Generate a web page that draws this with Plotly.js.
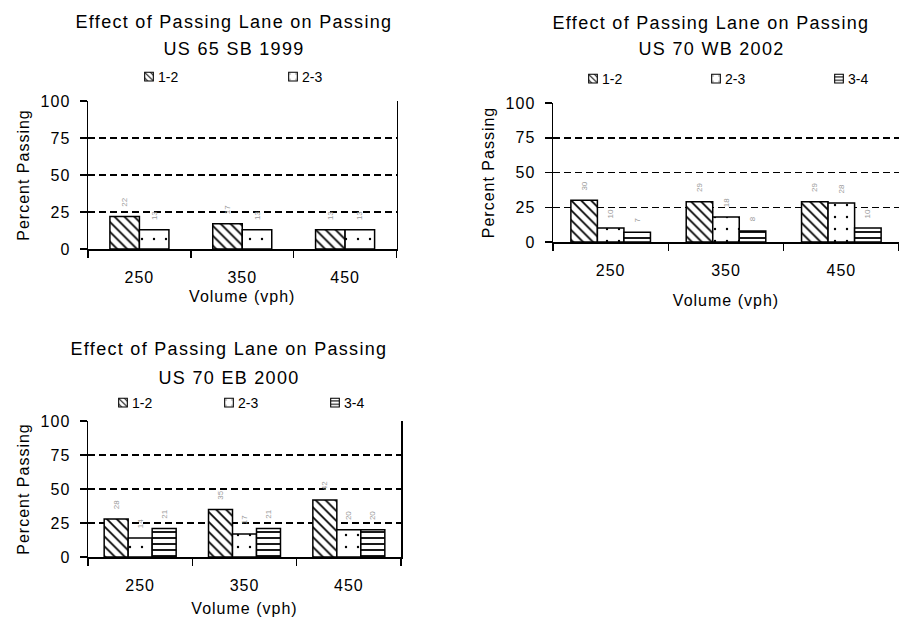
<!DOCTYPE html>
<html>
<head>
<meta charset="utf-8">
<script src="https://cdn.plot.ly/plotly-3.0.1.min.js"></script>
<style>
  html, body { margin: 0; padding: 0; background: #fff; }
  #chart { width: 899px; height: 629px; }
  #chart .annotation-text { letter-spacing: 1.3px; }
  #chart g[class$="tick"] text { letter-spacing: 1px; }
  #chart text[class$="title"] { letter-spacing: 1px; }
  #chart .legendpoints path { transform: translate(31px, 0px) scale(0.72); }
</style>
</head>
<body>
<div id="chart"></div>
<script>
// Traffic volume categories (vehicles per hour)
const volumes = ['250', '350', '450'];
const laneNames = ['1-2', '2-3', '3-4'];

const mainTitle = 'Effect of Passing Lane on Passing';
const siteNames = ['US 65 SB 1999', 'US 70 WB 2002', 'US 70 EB 2000'];

// Percent passing by lane transition, US 65 SB 1999
const us65sb_12 = [22, 17, 13];
const us65sb_23 = [13, 13, 13];

// Percent passing by lane transition, US 70 WB 2002
const us70wb_12 = [30, 29, 29];
const us70wb_23 = [10, 18, 28];
const us70wb_34 = [7, 8, 10];

// Percent passing by lane transition, US 70 EB 2000
const us70eb_12 = [28, 35, 42];
const us70eb_23 = [14, 17, 20];
const us70eb_34 = [21, 21, 20];

const yTicks = [0, 25, 50, 75, 100];
const gridTicks = [25, 50, 75];

const FONT = 'Arial, "Liberation Sans", sans-serif';

// fill pattern per lane transition
const patterns = {
  '1-2': { shape: '\\', size: 7, solidity: 0.25 },
  '2-3': { shape: '.', size: 12, solidity: 0.03 },
  '3-4': { shape: '-', size: 6, solidity: 0.3 }
};

function barTrace(name, values, xa, ya, legendId, extra) {
  const p = patterns[name];
  return Object.assign({
    type: 'bar',
    name: name,
    x: volumes,
    y: values,
    xaxis: xa,
    yaxis: ya,
    legend: legendId,
    // leading spaces lift the rotated value label clear of the bar top
    texttemplate: '\u00a0\u00a0\u00a0%{y}',
    textposition: 'outside',
    textangle: -90,
    constraintext: 'none',
    cliponaxis: false,
    textfont: { family: FONT, size: 8, color: '#9a9a9a' },
    marker: {
      color: 'white',
      line: { color: 'black', width: 1.5 },
      pattern: {
        shape: p.shape, size: p.size, solidity: p.solidity,
        fgcolor: 'black', bgcolor: 'white', fillmode: 'replace'
      }
    },
    hoverinfo: 'skip'
  }, extra || {});
}

// empty carrier so the dashed reference-line axis gets drawn
function gridCarrier(xa, ya) {
  return { type: 'scatter', mode: 'lines', x: [], y: [], xaxis: xa, yaxis: ya, showlegend: false, hoverinfo: 'skip' };
}

// the two-series chart uses touching bars of a fixed width
const pairWidth = 0.287;

const data = [
  gridCarrier('x', 'y4'),
  gridCarrier('x2', 'y5'),
  gridCarrier('x3', 'y6'),

  barTrace(laneNames[0], us65sb_12, 'x', 'y', 'legend', { offset: -pairWidth, width: pairWidth }),
  barTrace(laneNames[1], us65sb_23, 'x', 'y', 'legend', { offset: 0, width: pairWidth }),

  barTrace(laneNames[0], us70wb_12, 'x2', 'y2', 'legend2'),
  barTrace(laneNames[1], us70wb_23, 'x2', 'y2', 'legend2'),
  barTrace(laneNames[2], us70wb_34, 'x2', 'y2', 'legend2'),

  barTrace(laneNames[0], us70eb_12, 'x3', 'y3', 'legend3'),
  barTrace(laneNames[1], us70eb_23, 'x3', 'y3', 'legend3'),
  barTrace(laneNames[2], us70eb_34, 'x3', 'y3', 'legend3')
];

const W = 899, H = 629;
const px = v => v / W;
const py = v => 1 - v / H;

function xAxis(left, right, anchor, titleGap) {
  return {
    domain: [px(left), Math.min(1, px(right))],
    anchor: anchor,
    type: 'category',
    categoryorder: 'array',
    categoryarray: volumes,
    showline: true, linecolor: 'black', linewidth: 1.5,
    ticks: 'outside', tickson: 'boundaries', ticklen: 7, tickwidth: 1.5, tickcolor: 'black',
    ticklabelstandoff: 13,
    tickfont: { family: FONT, size: 16, color: 'black' },
    showgrid: false, zeroline: false, fixedrange: true,
    title: { text: 'Volume (vph)', standoff: titleGap, font: { family: FONT, size: 16, color: 'black' } }
  };
}

function yAxis(top, bottom, anchor, mirror) {
  return {
    domain: [py(bottom), py(top)],
    anchor: anchor,
    range: [0, 100],
    tickmode: 'array', tickvals: yTicks,
    showline: true, linecolor: 'black', linewidth: 1.5, mirror: mirror,
    ticks: 'outside', ticklen: 7, tickwidth: 1.5, tickcolor: 'black',
    ticklabelstandoff: 6,
    tickfont: { family: FONT, size: 16, color: 'black' },
    showgrid: false, zeroline: false, fixedrange: true,
    title: { text: 'Percent Passing', standoff: 10, font: { family: FONT, size: 16, color: 'black' } }
  };
}

// dashed reference lines at 25 / 50 / 75 drawn by an overlaid axis
function gridAxis(over, anchor) {
  return {
    overlaying: over, anchor: anchor,
    range: [0, 100],
    tickmode: 'array', tickvals: gridTicks,
    showticklabels: false, ticks: '',
    showgrid: true, gridcolor: 'black', gridwidth: 1.5, griddash: '7px,4px',
    showline: false, zeroline: false, fixedrange: true
  };
}

function legendAt(xLeft, yMid, entry) {
  return {
    orientation: 'h',
    x: px(xLeft), y: py(yMid),
    xanchor: 'left', yanchor: 'middle',
    entrywidth: entry, entrywidthmode: 'pixels',
    itemwidth: 30,
    bgcolor: 'rgba(0,0,0,0)',
    font: { family: FONT, size: 14, color: 'black' },
    itemclick: false, itemdoubleclick: false
  };
}

function titleLines(cx, y1, y2, site) {
  const base = {
    xref: 'paper', yref: 'paper', showarrow: false,
    xanchor: 'center', yanchor: 'middle',
    font: { family: FONT, size: 18, color: 'black' }
  };
  return [
    Object.assign({}, base, { x: px(cx), y: py(y1), text: mainTitle }),
    Object.assign({}, base, { x: px(cx), y: py(y2), text: site })
  ];
}

const layout = {
  width: W, height: H,
  margin: { l: 0, r: 0, t: 0, b: 0, autoexpand: false },
  paper_bgcolor: 'white', plot_bgcolor: 'white',
  font: { family: FONT, size: 16, color: 'black' },
  barmode: 'group', bargap: 0.31, bargroupgap: 0,
  showlegend: true,

  xaxis: xAxis(88, 396.5, 'y', 6),
  yaxis: yAxis(101, 249, 'x', true),
  xaxis2: xAxis(553, 899, 'y2', 17),
  yaxis2: yAxis(103, 242, 'x2', false),
  xaxis3: xAxis(88, 401, 'y3', 10),
  yaxis3: yAxis(421, 557, 'x3', true),

  yaxis4: gridAxis('y', 'x'),
  yaxis5: gridAxis('y2', 'x2'),
  yaxis6: gridAxis('y3', 'x3'),

  legend: legendAt(118, 77, 99),
  legend2: legendAt(562, 79, 78),
  legend3: legendAt(92, 403, 61),

  annotations: [].concat(
    titleLines(234, 22, 49, siteNames[0]),
    titleLines(711, 23, 49, siteNames[1]),
    titleLines(229, 349, 378, siteNames[2])
  )
};

Plotly.newPlot('chart', data, layout, { displayModeBar: false, staticPlot: true });
</script>
</body>
</html>
